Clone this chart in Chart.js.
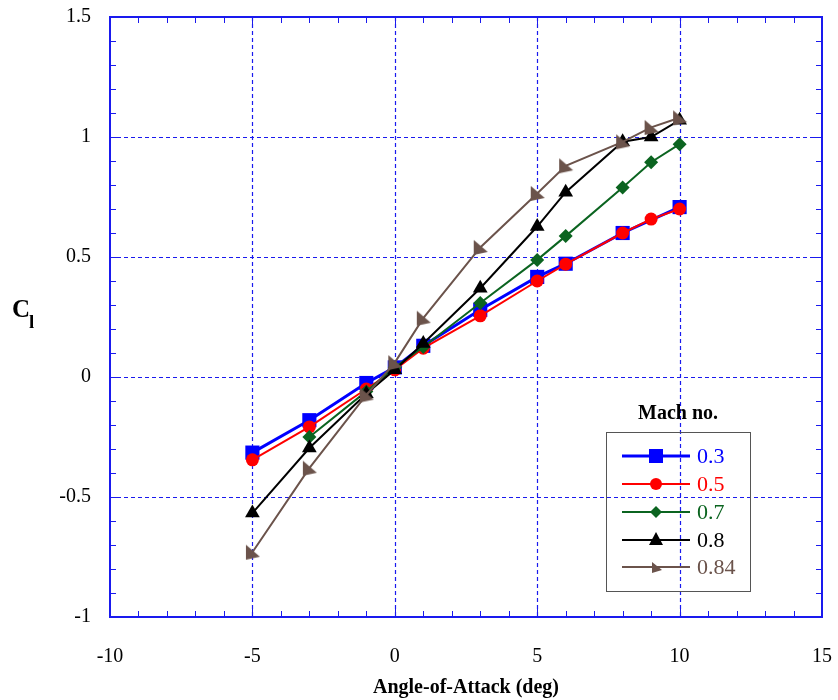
<!DOCTYPE html>
<html>
<head>
<meta charset="utf-8">
<script src="https://cdn.jsdelivr.net/npm/chart.js@4"></script>
<style>
  html, body { margin: 0; padding: 0; background: #fff; }
  #wrap { width: 838px; height: 700px; position: relative; }
</style>
</head>
<body>
<div id="wrap"><canvas id="clChart"></canvas></div>
<script>
// angle of attack (deg) and lift coefficient per Mach number
const machLabels = ['0.3', '0.5', '0.7', '0.8', '0.84'];

const aoa03 = [-5, -3, -1, 0, 1, 3, 5, 6, 8, 10];
const cl03  = [-0.315, -0.18, -0.025, 0.04, 0.13, 0.28, 0.417, 0.472, 0.6, 0.708];

const aoa05 = [-5, -3, -1, 0, 1, 3, 5, 6, 8, 9, 10];
const cl05  = [-0.345, -0.208, -0.05, 0.03, 0.12, 0.255, 0.4, 0.47, 0.6, 0.658, 0.7];

const aoa07 = [-3, -1, 0, 1, 3, 5, 6, 8, 9, 10];
const cl07  = [-0.25, -0.06, 0.04, 0.125, 0.308, 0.488, 0.587, 0.79, 0.895, 0.97];

const aoa08 = [-5, -3, -1, 0, 1, 3, 5, 6, 8, 9, 10];
const cl08  = [-0.567, -0.296, -0.07, 0.03, 0.14, 0.37, 0.627, 0.77, 0.98, 1.0, 1.07];

const aoa084 = [-5, -3, -1, 0, 1, 3, 5, 6, 8, 9, 10];
const cl084  = [-0.73, -0.38, -0.075, 0.06, 0.245, 0.54, 0.765, 0.88, 0.98, 1.04, 1.08];

const xTicks = [-10, -5, 0, 5, 10, 15];
const yTicks = [-1, -0.5, 0, 0.5, 1, 1.5];

const colors = ['#0000ff', '#ff0000', '#0b6420', '#000000', '#6b534b'];
const axisBlue = '#1a1aee';
const serif = '"Liberation Serif", "Times New Roman", serif';

function pairs(xs, ys) {
    return xs.map((v, i) => ({ x: v, y: ys[i] }));
}

// right-angled brown marker
function makeWedge(size, color) {
    const c = document.createElement('canvas');
    c.width = size; c.height = size;
    const g = c.getContext('2d');
    g.fillStyle = color;
    g.beginPath();
    g.moveTo(2, 1);
    g.lineTo(size - 1, size - 4);
    g.lineTo(2, size - 1);
    g.closePath();
    g.fill();
    return c;
}
const wedge = makeWedge(17, colors[4]);
const wedgeSmall = makeWedge(13, colors[4]);

const seriesX = [aoa03, aoa05, aoa07, aoa08, aoa084];
const seriesY = [cl03, cl05, cl07, cl08, cl084];
const styles = [
    { pointStyle: 'rect', radius: 10, width: 3 },
    { pointStyle: 'circle', radius: 6.5, width: 2 },
    { pointStyle: 'rectRot', radius: 7, width: 2 },
    { pointStyle: 'triangle', radius: 8.5, width: 2 },
    { pointStyle: wedge, radius: 8, width: 2 }
];

const datasets = machLabels.map((m, i) => ({
    label: m,
    data: pairs(seriesX[i], seriesY[i]),
    showLine: true,
    borderColor: colors[i],
    backgroundColor: colors[i],
    borderWidth: styles[i].width,
    pointStyle: styles[i].pointStyle,
    pointRadius: styles[i].radius,
    pointHoverRadius: styles[i].radius,
    pointBorderWidth: 0,
    order: machLabels.length - i
}));

// no extra room for edge labels, the layout padding places the frame
function noEdgePadding(s) {
    s.paddingLeft = 0; s.paddingRight = 0;
    s.paddingTop = 0; s.paddingBottom = 0;
}

// frame: dashed grid, solid border, inner minor ticks
const framePlugin = {
    id: 'frame',
    beforeDatasetsDraw(chart) {
        const { ctx, chartArea: a, scales: { x, y } } = chart;
        ctx.save();
        ctx.strokeStyle = axisBlue;
        ctx.lineWidth = 1.2;
        ctx.setLineDash([4, 3]);
        ctx.beginPath();
        xTicks.slice(1, -1).forEach(v => {
            const px = Math.round(x.getPixelForValue(v)) + 0.5;
            ctx.moveTo(px, a.top); ctx.lineTo(px, a.bottom);
        });
        yTicks.slice(1, -1).forEach(v => {
            const py = Math.round(y.getPixelForValue(v)) + 0.5;
            ctx.moveTo(a.left, py); ctx.lineTo(a.right, py);
        });
        ctx.stroke();
        ctx.setLineDash([]);

        ctx.lineWidth = 1;
        ctx.beginPath();
        for (let v = -10; v <= 15; v++) {
            const px = Math.round(x.getPixelForValue(v)) + 0.5;
            const len = v % 5 === 0 ? 10 : 6;
            ctx.moveTo(px, a.bottom); ctx.lineTo(px, a.bottom - len);
            ctx.moveTo(px, a.top); ctx.lineTo(px, a.top + len);
        }
        for (let k = -10; k <= 15; k++) {
            const py = Math.round(y.getPixelForValue(k / 10)) + 0.5;
            const len = k % 5 === 0 ? 10 : 6;
            ctx.moveTo(a.left, py); ctx.lineTo(a.left + len, py);
            ctx.moveTo(a.right, py); ctx.lineTo(a.right - len, py);
        }
        ctx.stroke();
        ctx.lineWidth = 2;
        ctx.strokeRect(Math.round(a.left), Math.round(a.top),
            Math.round(a.right - a.left), Math.round(a.bottom - a.top));
        ctx.restore();
    },
    afterDraw(chart) {
        const ctx = chart.ctx;
        ctx.save();

        // y title: C with subscript l
        ctx.fillStyle = '#000';
        ctx.textBaseline = 'alphabetic';
        ctx.textAlign = 'left';
        ctx.font = 'bold 25px ' + serif;
        ctx.fillText('C', 12, 317);
        ctx.font = 'bold 19px ' + serif;
        ctx.fillText('l', 29, 328);

        // legend
        ctx.font = 'bold 20px ' + serif;
        ctx.textAlign = 'center';
        ctx.textBaseline = 'middle';
        ctx.fillText('Mach no.', 678, 414);

        ctx.strokeStyle = '#555';
        ctx.lineWidth = 1;
        ctx.strokeRect(606.5, 432.5, 144, 159);

        const rowY = [456, 484, 512, 540, 567];
        machLabels.forEach((m, i) => {
            const yy = rowY[i];
            ctx.strokeStyle = colors[i];
            ctx.fillStyle = colors[i];
            ctx.lineWidth = i === 0 ? 3 : 2;
            ctx.beginPath();
            ctx.moveTo(622, yy); ctx.lineTo(690, yy);
            ctx.stroke();
            const mx = 656;
            ctx.beginPath();
            if (i === 0) {
                ctx.fillRect(mx - 7, yy - 7, 14, 14);
            } else if (i === 1) {
                ctx.arc(mx, yy, 6, 0, Math.PI * 2); ctx.fill();
            } else if (i === 2) {
                ctx.moveTo(mx, yy - 6); ctx.lineTo(mx + 6, yy);
                ctx.lineTo(mx, yy + 6); ctx.lineTo(mx - 6, yy);
                ctx.closePath(); ctx.fill();
            } else if (i === 3) {
                ctx.moveTo(mx, yy - 8); ctx.lineTo(mx + 7, yy + 5);
                ctx.lineTo(mx - 7, yy + 5);
                ctx.closePath(); ctx.fill();
            } else {
                ctx.drawImage(wedgeSmall, mx - 6, yy - 6);
            }
            ctx.font = '22px ' + serif;
            ctx.textAlign = 'left';
            ctx.fillText(m, 697, yy + 1);
        });
        ctx.restore();
    }
};

new Chart(document.getElementById('clChart').getContext('2d'), {
    type: 'scatter',
    data: { datasets: datasets },
    options: {
        responsive: true,
        maintainAspectRatio: false,
        animation: false,
        layout: { padding: { top: 17, right: 16, left: 0, bottom: 0 } },
        plugins: {
            legend: { display: false },
            tooltip: { enabled: false }
        },
        scales: {
            x: {
                type: 'linear',
                min: -10,
                max: 15,
                afterFit: s => { s.height = 83; noEdgePadding(s); },
                afterBuildTicks: s => { s.ticks = xTicks.map(v => ({ value: v })); },
                grid: { display: false, drawTicks: false },
                border: { display: false },
                ticks: {
                    color: '#000',
                    padding: 28,
                    maxRotation: 0,
                    font: { family: serif, size: 20 },
                    callback: v => String(v)
                },
                title: {
                    display: true,
                    text: 'Angle-of-Attack (deg)',
                    color: '#000',
                    font: { family: serif, size: 20, weight: 'bold' },
                    padding: { top: 0, bottom: 0 }
                }
            },
            y: {
                type: 'linear',
                min: -1,
                max: 1.5,
                afterFit: s => { s.width = 110; noEdgePadding(s); },
                afterBuildTicks: s => { s.ticks = yTicks.map(v => ({ value: v })); },
                grid: { display: false, drawTicks: false },
                border: { display: false },
                ticks: {
                    color: '#000',
                    padding: 19,
                    font: { family: serif, size: 20 },
                    callback: v => String(Math.round(v * 10) / 10)
                }
            }
        }
    },
    plugins: [framePlugin]
});
</script>
</body>
</html>
